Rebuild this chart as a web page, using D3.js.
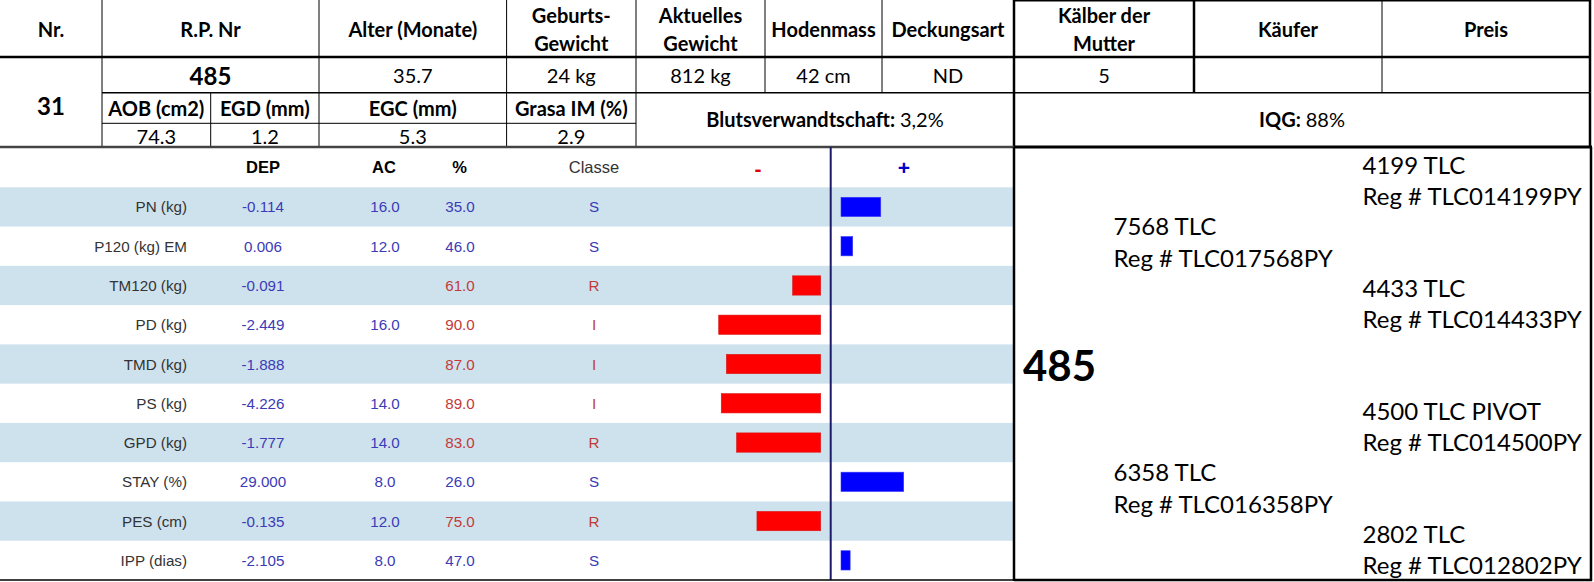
<!DOCTYPE html>
<html>
<head>
<meta charset="utf-8">
<script src="https://cdn.jsdelivr.net/npm/d3@7"></script>
<style>
  body { margin: 0; background: #fff; }
  svg { display: block; }
</style>
</head>
<body>
<div id="chart"></div>
<script>
// ---- data ----
const headerLabels = [["Nr."], ["R.P. Nr"], ["Alter (Monate)"], ["Geburts-", "Gewicht"], ["Aktuelles", "Gewicht"],
  ["Hodenmass"], ["Deckungsart"], ["Kälber der", "Mutter"], ["Käufer"], ["Preis"]];
const headerValues = ["", "485", "35.7", "24 kg", "812 kg", "42 cm", "ND", "5", "", ""];
const lotNumber = "31";
const carcassLabels = ["AOB (cm2)", "EGD (mm)", "EGC (mm)", "Grasa IM (%)"];
const carcassValues = ["74.3", "1.2", "5.3", "2.9"];
const inbreeding = "3,2%";
const iqg = "88%";

const traits = ["PN (kg)", "P120 (kg) EM", "TM120 (kg)", "PD (kg)", "TMD (kg)", "PS (kg)", "GPD (kg)", "STAY (%)", "PES (cm)", "IPP (dias)"];
const dep = [-0.114, 0.006, -0.091, -2.449, -1.888, -4.226, -1.777, 29.000, -0.135, -2.105];
const ac = [16, 12, null, 16, null, 14, 14, 8, 12, 8];
const pct = [35, 46, 61, 90, 87, 89, 83, 26, 75, 47];
const classe = ["S", "S", "R", "I", "I", "I", "R", "S", "R", "S"];

const animal = "485";
const parents = [["7568 TLC", "Reg # TLC017568PY"], ["6358 TLC", "Reg # TLC016358PY"]];
const grandparents = [["4199 TLC", "Reg # TLC014199PY"], ["4433 TLC", "Reg # TLC014433PY"],
  ["4500 TLC PIVOT", "Reg # TLC014500PY"], ["2802 TLC", "Reg # TLC012802PY"]];

// ---- layout ----
const width = 1594, height = 582;
const colEdges = [0, 102, 319, 506.6, 636, 765, 882, 1014, 1194, 1382, 1590];
const subEdges = [102, 210.7, 319, 506.6, 636];
const rowY = [0, 57, 92.7, 123.3, 147];
const tableTop = 147, tableBottom = 580, centerX = 830.7;
const calibri = "Lato, 'Noto Sans', sans-serif";
const arial = "'Liberation Sans', Arial, sans-serif";
const blue = "#3b3bb8", red = "#c23a3a";

const svg = d3.select("#chart").append("svg")
    .attr("width", width)
    .attr("height", height)
    .attr("viewBox", [0, 0, width, height]);

function rule(x1, y1, x2, y2, w = 1, c = "#000") {
  svg.append("line").attr("x1", x1).attr("y1", y1).attr("x2", x2).attr("y2", y2)
    .attr("stroke", c).attr("stroke-width", w);
}

function label(x, y, txt, opts = {}) {
  return svg.append("text")
      .attr("x", x).attr("y", y)
      .attr("text-anchor", opts.anchor || "middle")
      .attr("dominant-baseline", "central")
      .attr("font-family", opts.font || calibri)
      .attr("font-size", opts.size || 20)
      .attr("font-weight", opts.weight || "normal")
      .attr("fill", opts.fill || "#000")
      .text(txt);
}

// ---- lower table: row bands ----
const y = d3.scaleBand().domain(traits).range([187.3, tableBottom]);

svg.append("g")
  .selectAll("rect")
  .data(traits.filter((d, i) => i % 2 === 0))
  .join("rect")
    .attr("x", 0)
    .attr("y", d => y(d))
    .attr("width", 1014)
    .attr("height", y.bandwidth())
    .attr("fill", "#cee2ed");

// ---- header grid ----
// row 1 and 2
for (const x of colEdges.slice(1)) {
  const thick = x === 1014 || x === 1194 || x === 1590;
  rule(x, 0, x, rowY[2], thick ? 2.5 : 1);
}
rule(1014, 0, 1590, 0, 3);
rule(0, rowY[1], 1590, rowY[1], 2.5);
rule(102, rowY[2], 1590, rowY[2], 1.5);
// rows 3 and 4
for (const x of subEdges) rule(x, rowY[2], x, rowY[4], 1);
rule(1014, rowY[2], 1014, rowY[4], 2.5);
rule(1590, rowY[2], 1590, rowY[4], 2.5);
rule(102, rowY[3], 636, rowY[3], 1);
rule(0, rowY[4], 1014, rowY[4], 2.5, "#444");
rule(1014, rowY[4], 1592, rowY[4], 3);

// header texts
headerLabels.forEach((lines, i) => {
  const cx = (colEdges[i] + colEdges[i + 1]) / 2;
  const ys = lines.length === 1 ? [28.5] : [15, 43];
  lines.forEach((l, j) => label(cx, ys[j], l, {weight: "bold"}));
});
headerValues.forEach((v, i) => {
  const cx = (colEdges[i] + colEdges[i + 1]) / 2;
  if (v) label(cx, 75, v, i === 1 ? {weight: "bold", size: 24} : {});
});
label(51, 105, lotNumber, {weight: "bold", size: 24});
carcassLabels.forEach((v, i) => label((subEdges[i] + subEdges[i + 1]) / 2, 108, v, {weight: "bold"}));
carcassValues.forEach((v, i) => label((subEdges[i] + subEdges[i + 1]) / 2, 136, v));

const bt = label(825, 119, "", {});
bt.append("tspan").attr("font-weight", "bold").text("Blutsverwandtschaft: ");
bt.append("tspan").text(inbreeding);
const qt = label(1302, 119, "", {});
qt.append("tspan").attr("font-weight", "bold").text("IQG: ");
qt.append("tspan").text(iqg);

// ---- lower table: column headers ----
const cols = [
  {name: "DEP", x: 263, weight: "bold", fill: "#000"},
  {name: "AC", x: 384, weight: "bold", fill: "#000"},
  {name: "%", x: 459.5, weight: "bold", fill: "#000"},
  {name: "Classe", x: 594, weight: "normal", fill: "#333"}
];
cols.forEach(c => label(c.x, 167, c.name, {font: arial, size: 16.5, weight: c.weight, fill: c.fill}));
label(758, 168, "-", {font: arial, size: 21, weight: "bold", fill: "#e00000"});
label(904, 167, "+", {font: arial, size: 21, weight: "bold", fill: "#0000cc"});

const rows = svg.append("g")
  .selectAll("g")
  .data(traits.map((t, i) => ({t, dep: dep[i], ac: ac[i], pct: pct[i], cls: classe[i]})))
  .join("g")
    .attr("transform", d => `translate(0,${y(d.t) + y.bandwidth() / 2})`)
    .attr("font-family", arial)
    .attr("font-size", 15.2)
    .attr("dominant-baseline", "central");

rows.append("text").attr("x", 187).attr("text-anchor", "end").attr("fill", "#333").text(d => d.t);
rows.append("text").attr("x", 263).attr("text-anchor", "middle").attr("fill", blue).text(d => d.dep.toFixed(3));
rows.append("text").attr("x", 385).attr("text-anchor", "middle").attr("fill", blue)
    .text(d => d.ac == null ? "" : d.ac.toFixed(1));
rows.append("text").attr("x", 460).attr("text-anchor", "middle")
    .attr("fill", d => d.cls === "S" ? blue : red).text(d => d.pct.toFixed(1));
rows.append("text").attr("x", 594).attr("text-anchor", "middle")
    .attr("fill", d => d.cls === "S" ? blue : red).text(d => d.cls);

// ---- bars: distance of percentile from 50 ----
const len = d3.scaleLinear().domain([0, 50]).range([0, 127.5]);
const barH = 19.3;
svg.append("g")
  .selectAll("rect")
  .data(traits.map((t, i) => ({t, v: 50 - pct[i]})))
  .join("rect")
    .attr("x", d => d.v >= 0 ? centerX + 10.3 : centerX - 10 - len(-d.v))
    .attr("y", d => y(d.t) + (y.bandwidth() - barH) / 2)
    .attr("width", d => len(Math.abs(d.v)) + (d.v >= 0 ? 1.5 : 0))
    .attr("height", barH)
    .attr("fill", d => d.v >= 0 ? "#0000ff" : "#ff0000")
    .attr("stroke", d => d.v >= 0 ? "#3a3aff" : "#d81818")
    .attr("stroke-width", 0.6);

rule(centerX, tableTop, centerX, tableBottom, 2, "#1b1b6a");
rule(0, tableBottom, 1014, tableBottom, 1.5);

// ---- pedigree box ----
rule(1014, tableTop, 1014, tableBottom + 1, 2.5);
rule(1591, tableTop, 1591, tableBottom + 1, 2.5);
rule(1014, tableBottom, 1592, tableBottom, 2.5);

const gy = d3.scalePoint().domain(d3.range(grandparents.length)).range([180, 549]);
const py = i => (gy(2 * i) + gy(2 * i + 1)) / 2;

label(1023, (py(0) + py(1)) / 2, animal, {anchor: "start", weight: "bold", size: 42});
parents.forEach((p, i) => {
  label(1113.5, py(i) - 15.8, p[0], {anchor: "start", size: 24});
  label(1113.5, py(i) + 15.8, p[1], {anchor: "start", size: 24});
});
grandparents.forEach((p, i) => {
  label(1362.5, gy(i) - 15.8, p[0], {anchor: "start", size: 24});
  label(1362.5, gy(i) + 15.8, p[1], {anchor: "start", size: 24});
});
</script>
</body>
</html>
